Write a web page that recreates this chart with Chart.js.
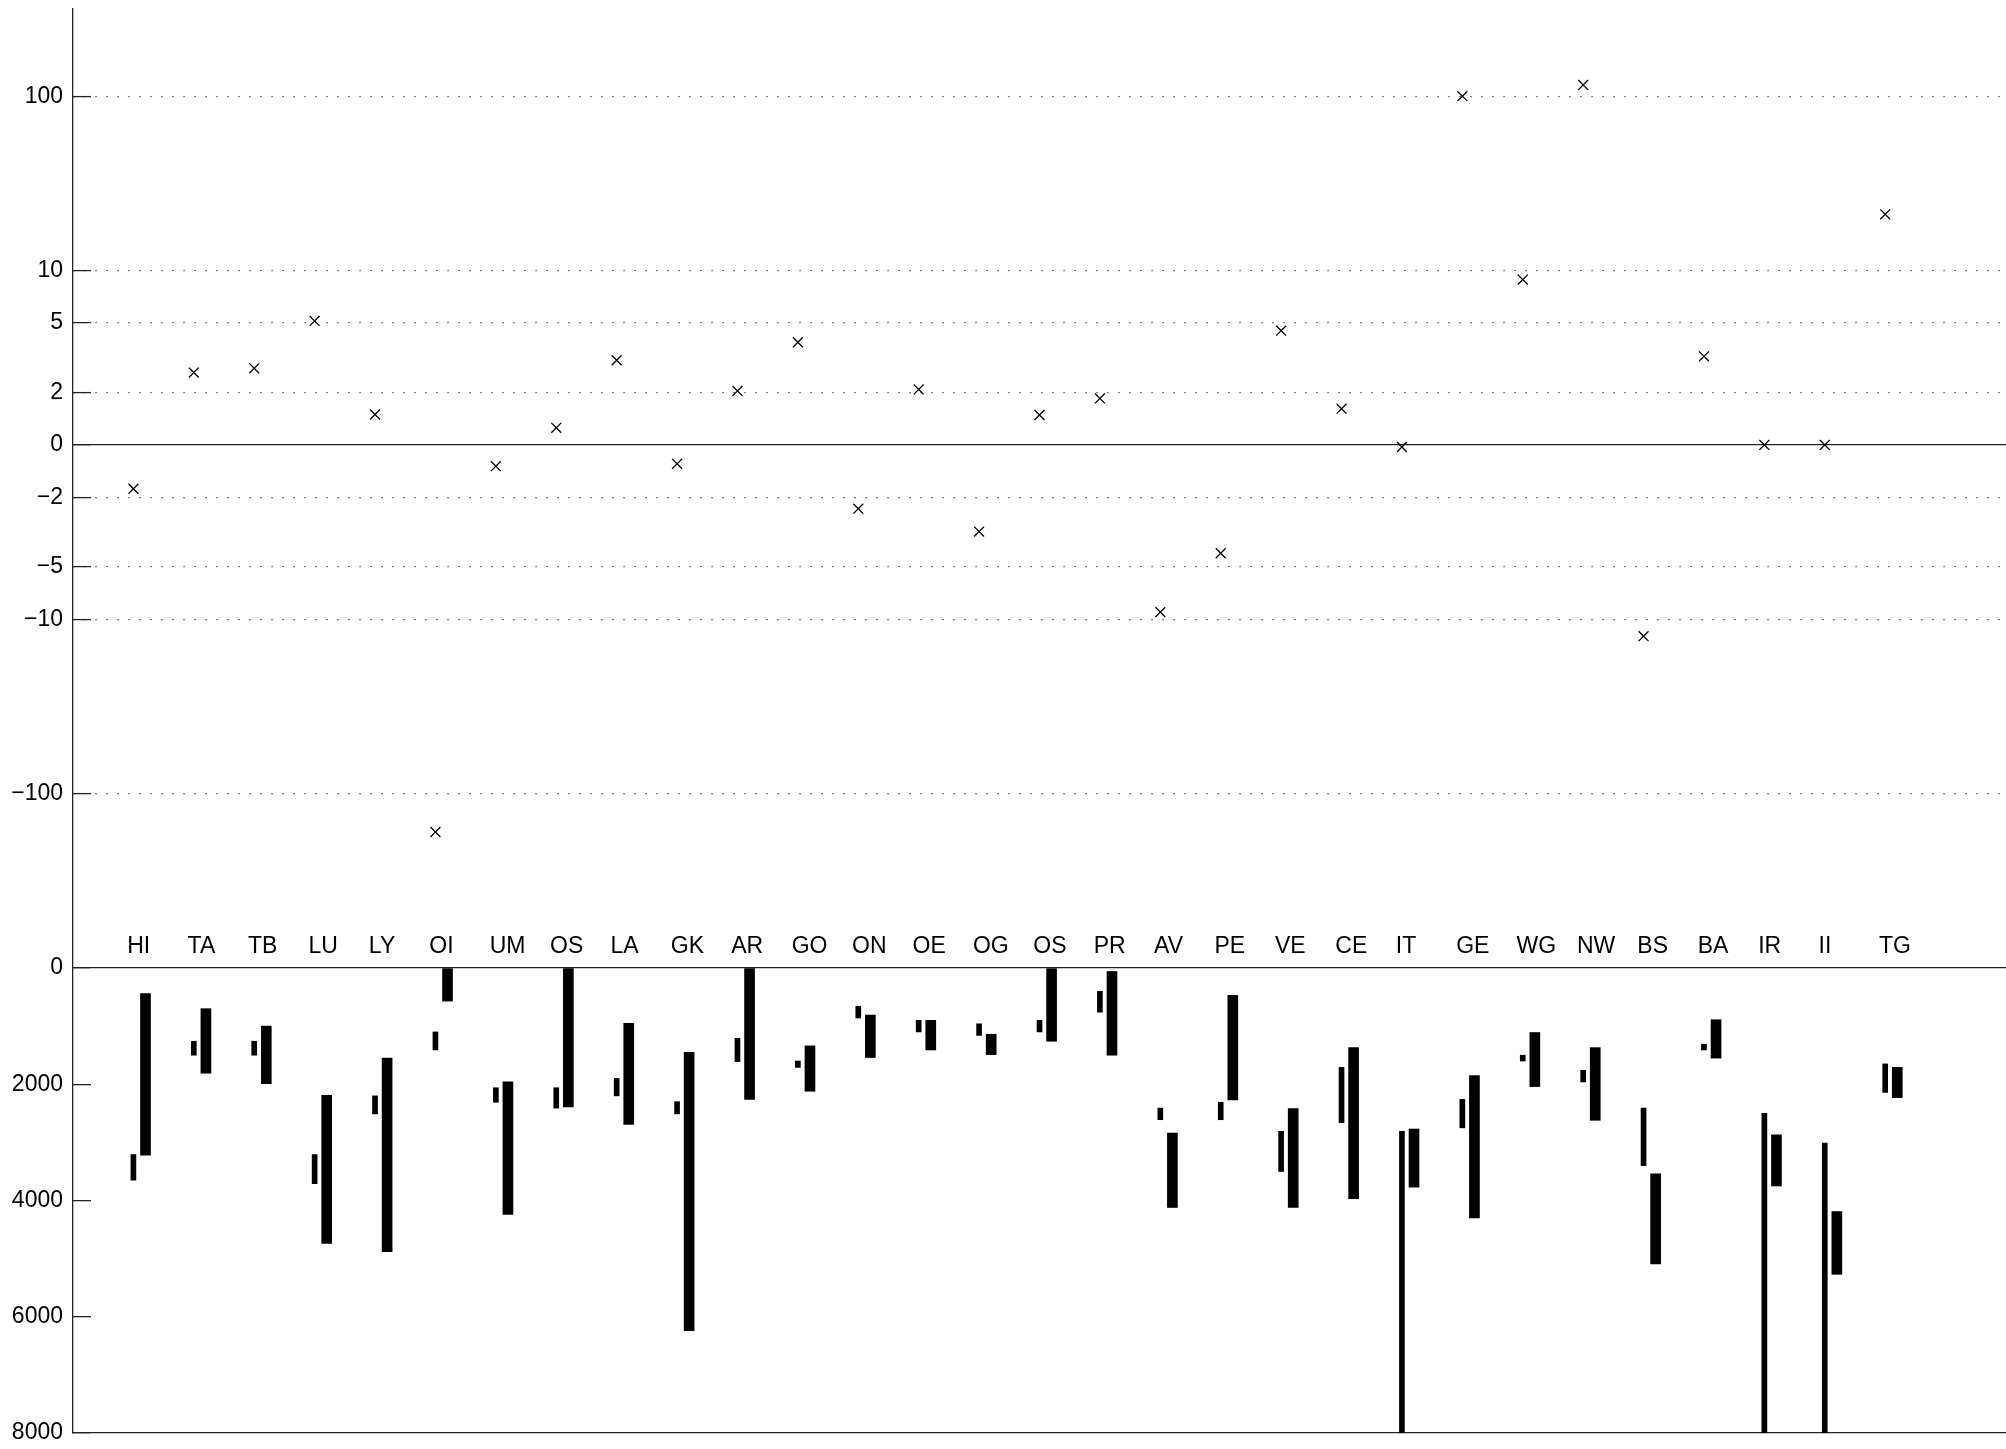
<!DOCTYPE html>
<html>
<head>
<meta charset="utf-8">
<script src="https://cdn.jsdelivr.net/npm/chart.js@4/dist/chart.umd.min.js"></script>
<style>
html,body{margin:0;padding:0;background:#fff;}
canvas{display:block;}
</style>
</head>
<body>
<canvas id="c" width="2006" height="1449"></canvas>
<script>
// ---- data ----
const CATEGORIES = ['HI','TA','TB','LU','LY','OI','UM','OS','LA','GK','AR','GO','ON','OE','OG','OS','PR','AV','PE','VE','CE','IT','GE','WG','NW','BS','BA','IR','II','TG'];

// upper panel: marker values (symmetric log axis)
const CHANGE = [-1.67, 2.6, 2.75, 5.14, 1.16, -166, -0.81, 0.65, 3.06, -0.72, 2.04, 3.88, -2.32, 2.08, -3.14, 1.14, 1.77, -9.1, -4.18, 4.52, 1.38, -0.08, 100, 8.88, 116, -12.5, 3.22, 0, 0, 21];

// lower panel: narrow ranges
const THIN_START = [3210, 1260, 1260, 3210, 2200, 1100, 2060, 2060, 1900, 2300, 1210, 1600, 660, 900, 960, 900, 400, 2410, 2310, 2810, 1710, 2810, 2260, 1500, 1760, 2410, 1310, 2500, 3010, 1650];
const THIN_END   = [3650, 1500, 1500, 3710, 2510, 1410, 2310, 2410, 2200, 2510, 1610, 1710, 860, 1100, 1160, 1100, 760, 2610, 2610, 3500, 2660, 8000, 2750, 1600, 1960, 3400, 1410, 8000, 8000, 2140];

// lower panel: wide ranges
const THICK_START = [440, 700, 1000, 2190, 1550, 0, 1960, 0, 950, 1450, 0, 1340, 810, 900, 1140, 0, 60, 2840, 470, 2420, 1370, 2770, 1850, 1110, 1370, 3540, 890, 2870, 4190, 1710];
const THICK_END   = [3220, 1810, 1990, 4740, 4880, 570, 4240, 2390, 2690, 6240, 2260, 2120, 1540, 1410, 1490, 1260, 1500, 4120, 2270, 4120, 3970, 3770, 4300, 2040, 2620, 5090, 1550, 3750, 5270, 2230];

const CHANGE_TICKS = [-100, -10, -5, -2, 0, 2, 5, 10, 100];
const DEPTH_TICKS = [0, 2000, 4000, 6000, 8000];

// ---- helpers ----
function symlog(v) {
  const a = Math.abs(v);
  return a >= 2 ? Math.sign(v) * Math.log10(a) : v * Math.log10(2) / 2;
}
const fmt = v => (v < 0 ? '\u2212' + Math.abs(v) : String(v));
const positions = CATEGORIES.map((_, i) => i + 1);
const FONT = {family: "'Liberation Sans', Arial, Helvetica, sans-serif", size: 23};
const AXIS = '#222';
function zeroPad(s) { s.paddingLeft = 0; s.paddingRight = 0; s.paddingTop = 0; s.paddingBottom = 0; }
const isZero = c => c.tick && c.tick.value === 0;

new Chart(document.getElementById('c'), {
  type: 'bar',
  data: {
    datasets: [
      {
        type: 'scatter',
        data: positions.map((x, i) => ({x: x, y: symlog(CHANGE[i])})),
        xAxisID: 'x', yAxisID: 'yt',
        pointStyle: 'crossRot', radius: 7, hoverRadius: 7,
        borderColor: '#000', backgroundColor: '#000', borderWidth: 1.3
      },
      {
        type: 'bar',
        data: positions.map((x, i) => ({x: x, y: [THIN_START[i], THIN_END[i]]})),
        xAxisID: 'x', yAxisID: 'yb',
        barThickness: 5, grouped: false, borderWidth: 0, backgroundColor: '#000'
      },
      {
        type: 'bar',
        data: positions.map((x, i) => ({x: x, y: [THICK_START[i], THICK_END[i]]})),
        xAxisID: 'x2', yAxisID: 'yb',
        barThickness: 10, grouped: false, borderWidth: 0, backgroundColor: '#000'
      }
    ]
  },
  options: {
    responsive: false,
    animation: false,
    devicePixelRatio: 1,
    layout: {autoPadding: false, padding: {top: 9, bottom: 16, left: 0, right: 0}},
    plugins: {legend: {display: false}, tooltip: {enabled: false}},
    scales: {
      x: {
        type: 'linear', position: 'bottom', min: 0, max: 32, offset: false,
        ticks: {display: false},
        grid: {display: false, drawTicks: false, offset: false},
        border: {display: true, color: AXIS, width: 1.3},
        afterFit: s => { s.height = 0; zeroPad(s); }
      },
      x2: {
        type: 'linear', position: 'bottom', min: -0.2, max: 31.8, offset: false,
        grid: {offset: false}, display: false
      },
      xl: {
        type: 'linear', position: {yt: -2.8}, min: 0, max: 32, offset: false,
        grid: {display: false, drawTicks: false, offset: false},
        border: {display: false},
        afterBuildTicks: s => { s.ticks = positions.map(v => ({value: v})); },
        ticks: {
          autoSkip: false, maxRotation: 0, minRotation: 0,
          align: 'start', labelOffset: -6.2, padding: 0,
          color: '#000', font: FONT,
          callback: (v, i) => CATEGORIES[i]
        },
        afterFit: s => { s.height = 0; zeroPad(s); }
      },
      yb: {
        type: 'linear', position: 'left', stack: 'v', stackWeight: 465,
        reverse: true, min: 0, max: 8000,
        afterBuildTicks: s => { s.ticks = DEPTH_TICKS.map(v => ({value: v})); },
        ticks: {color: '#000', font: FONT, padding: 28, callback: (v) => String(v)},
        grid: {
          color: c => isZero(c) ? AXIS : 'rgba(0,0,0,0)',
          lineWidth: 1.3, tickLength: -18, tickColor: AXIS, tickWidth: 1.3, tickBorderDash: []
        },
        border: {display: true, color: AXIS, width: 1.3, dash: []},
        afterFit: s => { s.width = 73; zeroPad(s); }
      },
      yt: {
        type: 'linear', position: 'left', stack: 'v', stackWeight: 959,
        min: -3, max: 2.5,
        afterBuildTicks: s => { s.ticks = CHANGE_TICKS.map(v => ({value: symlog(v)})); },
        ticks: {color: '#000', font: FONT, padding: 28, callback: (v, i) => fmt(CHANGE_TICKS[i])},
        grid: {
          color: c => isZero(c) ? AXIS : '#555',
          lineWidth: c => isZero(c) ? 1.3 : 1.2,
          tickLength: -18, tickColor: AXIS, tickWidth: 1.3, tickBorderDash: []
        },
        border: {
          display: true, color: AXIS, width: 1.3,
          dash: c => (c.tick && c.tick.value !== 0) ? [1.5, 9.5] : []
        },
        afterFit: s => { s.width = 73; zeroPad(s); }
      }
    }
  }
});
</script>
</body>
</html>
